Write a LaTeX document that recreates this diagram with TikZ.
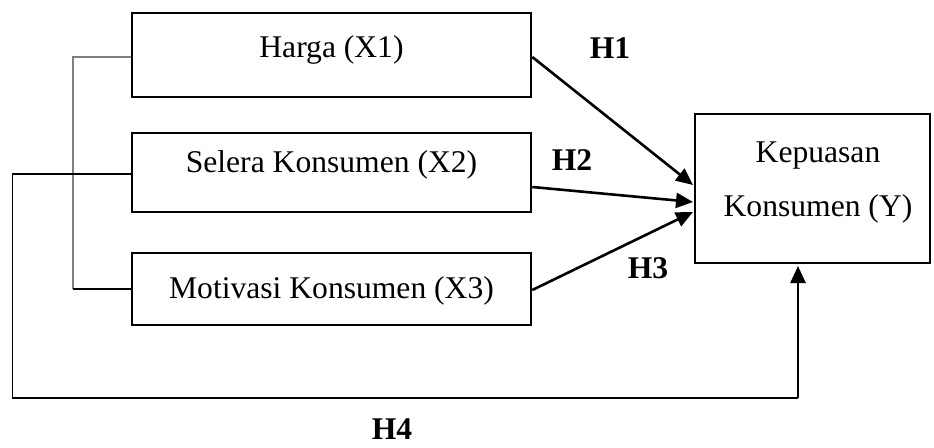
\documentclass[tikz,border=0pt]{standalone}
\usepackage{fontspec}
\setmainfont{Liberation Serif}
\usetikzlibrary{arrows.meta,calc}
\begin{document}
\begin{tikzpicture}[x=1pt,y=-1pt,
  varbox/.style={draw,line width=2.6pt,minimum width=399pt,inner sep=0pt,
    font=\fontsize{31.6}{38}\selectfont},
  txt/.style={inner sep=0pt,anchor=base,font=\fontsize{31.6}{38}\selectfont},
  hlabel/.style={font=\fontsize{31.6}{38}\selectfont\bfseries,inner sep=0pt},
  arr/.style={line width=2.6pt,-{Triangle[length=17pt,width=15pt]}},
  thin/.style={line width=1.2pt}]
\useasboundingbox (0,0) rectangle (934,447);
\node[varbox,minimum height=84pt,text height=22pt,text depth=18pt] (X1) at (331.5,55) {Harga (X1)};
\node[varbox,minimum height=79pt,text height=20pt,text depth=21pt] (X2) at (331.5,172.5) {Selera Konsumen (X2)};
\node[varbox,minimum height=72pt,text height=24pt,text depth=6pt] (X3) at (331.5,289) {Motivasi Konsumen (X3)};
\node[draw,line width=2.6pt,minimum width=235pt,minimum height=149pt,inner sep=0pt] (Y) at (812.5,188.5) {};
\node[txt] (Y1) at (818,162) {Kepuasan};
\node[txt] (Y2) at (818,216) {Konsumen (Y)};
\node[hlabel] (H1) at (610,48) {H1};
\node[hlabel] (H2) at (572,160) {H2};
\node[hlabel] (H3) at (648,268) {H3};
\node[hlabel] (H4) at (392,429) {H4};
\coordinate (t1) at (693,185);
\coordinate (t2) at (693,202);
\coordinate (t3) at (693,212);
\coordinate (b1) at (73,57);
\coordinate (b2) at (73,289);
\coordinate (o1) at (12.5,174);
\coordinate (o2) at (12.5,398);
\coordinate (o3) at (798,398);
\coordinate (o4) at (798,266);
\draw[arr] ($(X1.east)+(0,2)$) -- (t1);
\draw[arr] ($(X2.east)+(0,14.5)$) -- (t2);
\draw[arr] ($(X3.east)+(0,1)$) -- (t3);
\draw[thin,gray] ($(X1.west)+(0,2)$) -- (b1) -- (b2);
\draw[thin] (b2) -- (X3.west);
\draw[thin] ($(X2.west)+(0,1.5)$) -- (o1) -- (o2) -- (o3);
\draw[arr] (o3) -- (o4);
\end{tikzpicture}
\end{document}
